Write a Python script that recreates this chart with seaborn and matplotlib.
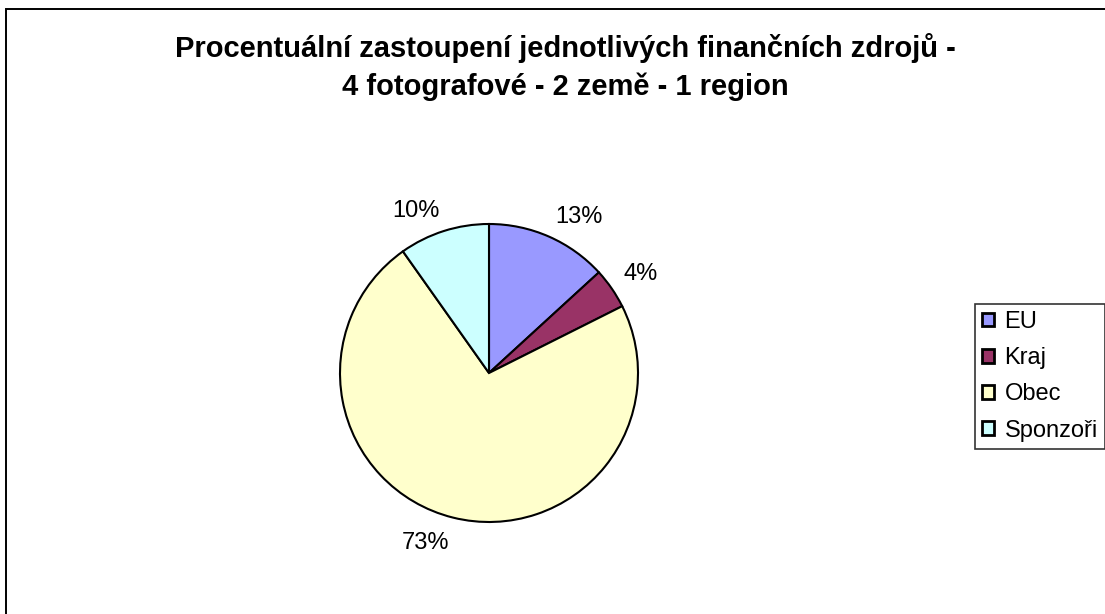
import matplotlib
matplotlib.use("Agg")
import matplotlib.pyplot as plt
import seaborn as sns
from matplotlib.patches import Rectangle

# data
sources = ["EU", "Kraj", "Obec", "Sponzoři"]
shares = [13.2, 4.4, 72.6, 9.8]
colors = ["#9999FF", "#993366", "#FFFFCC", "#CCFFFF"]
title = "Procentuální zastoupení jednotlivých finančních zdrojů -\n4 fotografové - 2 země - 1 region"

sns.set_theme(style="white")
plt.rcParams["font.family"] = ["Liberation Sans", "DejaVu Sans"]
plt.rcParams["text.color"] = "black"

W, H = 1105, 614
fig = plt.figure(figsize=(W / 100, H / 100), dpi=100)
fig.patch.set_facecolor("white")

# outer chart frame (only left/top visible in the reference)
fig.patches.append(Rectangle((6 / W, -0.1), 1.2, (H - 9) / H + 0.1, transform=fig.transFigure,
                             fill=False, edgecolor="black", linewidth=1.4))

fig.text(565 / W, 1 - 67 / H, title, ha="center", va="center", fontsize=21,
         fontweight="bold", linespacing=1.45, color="black")

# pie: centre (489, 373), radius 149 px
r = 149
cx, cy = 489, 373
size = 2.5 * r
ax = fig.add_axes([(cx - size / 2) / W, (H - cy - size / 2) / H, size / W, size / H])
wedges, texts, autotexts = ax.pie(
    shares, colors=colors, startangle=90, counterclock=False,
    autopct=lambda p: f"{p:.0f}%", pctdistance=1.1,
    wedgeprops=dict(edgecolor="black", linewidth=1.5),
    textprops=dict(fontsize=17, color="black"))
ax.set_aspect("equal")
ax.set_xlim(-1.25, 1.25)
ax.set_ylim(-1.25, 1.25)

# Excel anchors the label box by its corner nearest to the pie
for t in autotexts:
    x, y = t.get_position()
    t.set_ha("left" if x > 0 else "right")
    t.set_va("baseline" if y > 0 else "top")

leg = fig.legend(wedges, sources, loc="upper left", bbox_to_anchor=(975 / W, 1 - 304 / H),
                 frameon=True, fancybox=False, edgecolor="black", fontsize=17,
                 handlelength=0.5, handleheight=0.5, handletextpad=0.45,
                 labelspacing=0.6, borderpad=0.3, borderaxespad=0, labelcolor="black")
leg.get_frame().set_linewidth(1.2)
for h in leg.legend_handles:
    h.set_linewidth(2)

fig.savefig("out.png", dpi=100, facecolor="white")
